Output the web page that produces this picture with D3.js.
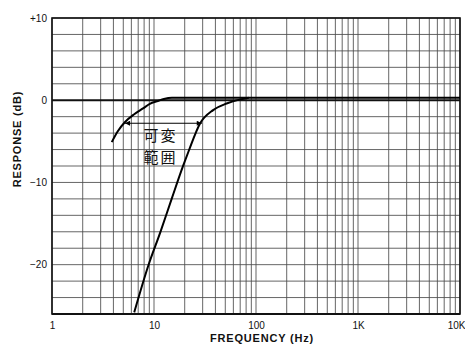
<!DOCTYPE html>
<html><head><meta charset="utf-8">
<script src="https://cdn.jsdelivr.net/npm/d3@7"></script>
<style>
html,body{margin:0;padding:0;background:#fff;}
svg{display:block;}
text{font-family:"Liberation Sans","DejaVu Sans",Arial,sans-serif;fill:#111;}
</style></head>
<body>
<script>
// ---- data ----
const xTickValues = [1, 10, 100, 1000, 10000];
const xTickLabels = ["1", "10", "100", "1K", "10K"];
const yTickValues = [10, 0, -10, -20];
const yTickLabels = ["+10", "0", "\u221210", "\u221220"];

// curve A: lowest cutoff setting
const freqA = [3.85, 4.4, 5.2, 6.4, 7.8, 9.1, 10.9, 12.5, 15, 10000];
const respA = [-5.1, -3.8, -2.65, -1.7, -1.0, -0.45, -0.1, 0.15, 0.3, 0.3];
// curve B: highest cutoff setting
const freqB = [6.4, 8.8, 11.5, 14.9, 19.4, 21.7, 28.2, 38, 51.5, 70, 85];
const respB = [-25.8, -20.1, -16.1, -12.0, -7.9, -6.3, -2.85, -1.2, -0.4, 0.1, 0.3];

// variable range arrow
const arrowFreqs = [5.2, 29.4];
const arrowLevel = -2.8;
const rangeLabel = ["可変", "範囲"];

const W = 465, H = 347;
const m = {left: 52, right: 5, top: 18, bottom: 33};

const svg = d3.select("body").append("svg").attr("width", W).attr("height", H);

const x = d3.scaleLog().domain([1, 10000]).range([m.left, W - m.right]);
const y = d3.scaleLinear().domain([-26, 10]).range([H - m.bottom, m.top]);

// grid
const g = svg.append("g");
const vLines = [];
for (let d = 1; d < 10000; d *= 10) for (let k = 1; k <= 9; k++) vLines.push(d * k);
vLines.push(10000);
g.selectAll("line.v").data(vLines).enter().append("line")
  .attr("x1", d => x(d)).attr("x2", d => x(d))
  .attr("y1", y(10)).attr("y2", y(-26))
  .attr("stroke", "#4a4a4a").attr("stroke-width", 0.85);
const hLines = d3.range(-26, 11, 2);
g.selectAll("line.h").data(hLines).enter().append("line")
  .attr("x1", x(1)).attr("x2", x(10000))
  .attr("y1", d => y(d)).attr("y2", d => y(d))
  .attr("stroke", d => d === 0 ? "#111" : "#4a4a4a")
  .attr("stroke-width", d => d === 0 ? 2 : 0.85);

// frame
svg.append("rect").attr("x", x(1)).attr("y", y(10))
  .attr("width", x(10000) - x(1)).attr("height", y(-26) - y(10))
  .attr("fill", "none").attr("stroke", "#111").attr("stroke-width", 1.6);
svg.append("line").attr("x1", x(1)).attr("x2", x(10000))
  .attr("y1", y(-26)).attr("y2", y(-26)).attr("stroke", "#111").attr("stroke-width", 2);

// axes labels via d3 axes
const xAxis = d3.axisBottom(x).tickValues(xTickValues)
  .tickFormat((d, i) => xTickLabels[i]).tickSize(0).tickPadding(8);
const xg = svg.append("g").attr("transform", `translate(0,${y(-26)})`).call(xAxis);
xg.select(".domain").remove();
xg.selectAll("text").style("font-size", "10px").attr("fill", "#111")
  .attr("text-anchor", (d, i) => i === xTickValues.length - 1 ? "end" : "middle")
  .attr("dx", (d, i) => i === xTickValues.length - 1 ? "5" : "0");

const yAxis = d3.axisLeft(y).tickValues(yTickValues)
  .tickFormat((d, i) => yTickLabels[i]).tickSize(0).tickPadding(5);
const yg = svg.append("g").attr("transform", `translate(${x(1)},0)`).call(yAxis);
yg.select(".domain").remove();
yg.selectAll("text").style("font-size", "10px").attr("fill", "#111");

// axis titles
svg.append("text").attr("x", 262).attr("y", 342).attr("text-anchor", "middle")
  .style("font-size", "11px").style("font-weight", "bold").style("letter-spacing", "0.8px")
  .text("FREQUENCY (Hz)");
svg.append("text").attr("transform", "translate(21,139) rotate(-90)").attr("text-anchor", "middle")
  .style("font-size", "11px").style("font-weight", "bold").style("letter-spacing", "0.8px")
  .text("RESPONSE (dB)");

// curves
const line = d3.line().x(d => x(d[0])).y(d => y(d[1])).curve(d3.curveMonotoneX);
svg.append("path").datum(d3.zip(freqA, respA)).attr("d", line)
  .attr("fill", "none").attr("stroke", "#000").attr("stroke-width", 2);
svg.append("path").datum(d3.zip(freqB, respB)).attr("d", line)
  .attr("fill", "none").attr("stroke", "#000").attr("stroke-width", 2);

// arrow
const defs = svg.append("defs");
defs.append("marker").attr("id", "ah").attr("viewBox", "0 0 10 10")
  .attr("refX", 10).attr("refY", 5).attr("markerWidth", 7).attr("markerHeight", 5)
  .attr("markerUnits", "userSpaceOnUse").attr("orient", "auto-start-reverse")
  .append("path").attr("d", "M0,0 L10,5 L0,10 z").attr("fill", "#000");
svg.append("line")
  .attr("x1", x(arrowFreqs[0])).attr("x2", x(arrowFreqs[1]))
  .attr("y1", y(arrowLevel)).attr("y2", y(arrowLevel))
  .attr("stroke", "#000").attr("stroke-width", 1.2)
  .attr("marker-start", "url(#ah)").attr("marker-end", "url(#ah)");

// annotation text
const labelFreq = Math.sqrt(arrowFreqs[0] * arrowFreqs[1]);
svg.selectAll("text.ann").data(rangeLabel).enter().append("text")
  .attr("class", "ann")
  .attr("x", x(labelFreq) - 3)
  .attr("y", (d, i) => y(arrowLevel) + 18 + i * 22)
  .attr("text-anchor", "middle")
  .style("font-family", "'Noto Sans CJK JP', sans-serif")
  .style("font-size", "15px").style("letter-spacing", "2px")
  .text(d => d);
</script>
</body></html>
